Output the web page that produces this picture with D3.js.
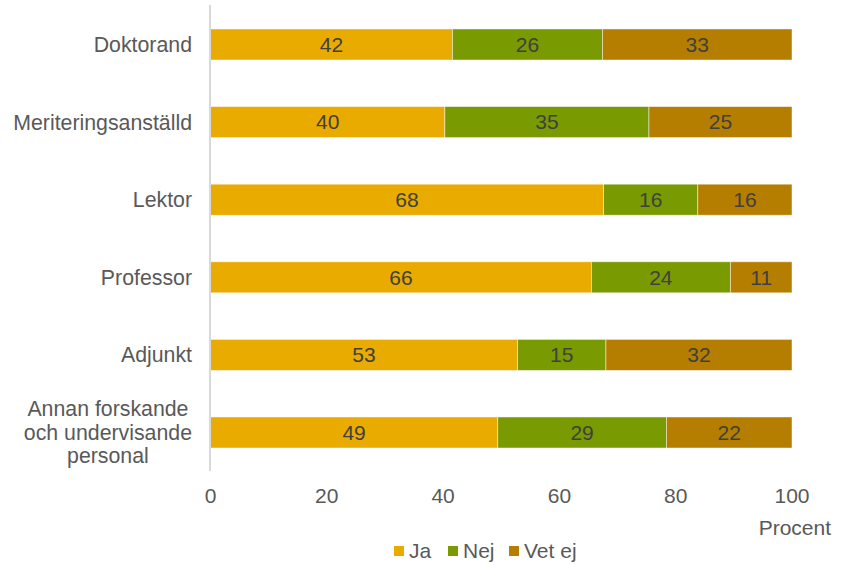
<!DOCTYPE html>
<html><head><meta charset="utf-8">
<script src="https://cdn.jsdelivr.net/npm/d3@7"></script>
<style>body{margin:0;background:#fff}svg{display:block}</style>
</head><body>
<script>
const categories = [["Doktorand"],["Meriteringsanställd"],["Lektor"],["Professor"],["Adjunkt"],["Annan forskande","och undervisande","personal"]];
const seriesNames = ["Ja","Nej","Vet ej"];
const ja    = [41.6, 40.3, 67.6, 65.5, 52.8, 49.4];
const nej   = [25.8, 35.1, 16.2, 23.9, 15.2, 29.0];
const vetej = [32.6, 24.6, 16.2, 10.6, 32.0, 21.6];
const colors = ["#EAAB00","#7A9A01","#B57E00"];
const xTicks = [0,20,40,60,80,100];

const W=842,H=564;
const svg=d3.select("body").append("svg").attr("width",W).attr("height",H);
const font="'Liberation Sans', Arial, sans-serif";

const x=d3.scaleLinear().domain([0,100]).range([210.5,792]);
const y=d3.scaleBand().domain(d3.range(categories.length)).range([5.7,471.3]).paddingInner(0.6).paddingOuter(0.3);

const rows=categories.map((c,i)=>({i,"Ja":ja[i],"Nej":nej[i],"Vet ej":vetej[i]}));
const stack=d3.stack().keys(seriesNames)(rows);

const g=svg.append("g");
stack.forEach((s,si)=>{
  g.selectAll(null).data(s).enter().append("rect")
   .attr("x",d=>x(d[0])).attr("width",d=>x(d[1])-x(d[0]))
   .attr("y",d=>y(d.data.i)).attr("height",y.bandwidth())
   .attr("fill",colors[si]).attr("stroke","#fff").attr("stroke-width",0.8).attr("stroke-opacity",0.6);
  g.selectAll(null).data(s).enter().append("text")
   .attr("x",d=>(x(d[0])+x(d[1]))/2).attr("y",d=>y(d.data.i)+y.bandwidth()/2)
   .attr("dy","0.35em").attr("text-anchor","middle")
   .attr("font-family",font).attr("font-size",21).attr("fill","#404040")
   .text(d=>Math.round(d[1]-d[0]));
});

// axis line
svg.append("line").attr("x1",210).attr("x2",210).attr("y1",5).attr("y2",471)
  .attr("stroke","#d9d9d9").attr("stroke-width",2);

// category labels
categories.forEach((lines,i)=>{
  const cy=y(i)+y.bandwidth()/2;
  const lh=23.5;
  const t=svg.append("text").attr("font-family",font).attr("font-size",21.3).attr("fill","#595959");
  if(lines.length===1){
    t.attr("x",192).attr("y",cy).attr("dy","0.35em").attr("text-anchor","end").text(lines[0]);
  } else {
    t.attr("text-anchor","middle");
    const tsp=lines.map((l,k)=>t.append("tspan").attr("y",cy+(k-(lines.length-1)/2)*lh).attr("dy","0.35em").text(l));
    let mw=0; tsp.forEach(s=>{mw=Math.max(mw,s.node().getComputedTextLength());});
    tsp.forEach(s=>s.attr("x",192-mw/2));
  }
});

// x tick labels
svg.selectAll(null).data(xTicks).enter().append("text")
  .attr("x",d=>x(d)).attr("y",496).attr("dy","0.35em").attr("text-anchor","middle")
  .attr("font-family",font).attr("font-size",21).attr("fill","#595959").text(d=>d);

svg.append("text").attr("x",831).attr("y",528).attr("dy","0.35em").attr("text-anchor","end")
  .attr("font-family",font).attr("font-size",21).attr("fill","#595959").text("Procent");

// legend
const legX=[394,448,509];
seriesNames.forEach((n,i)=>{
  svg.append("rect").attr("x",legX[i]).attr("y",546).attr("width",10).attr("height",10).attr("fill",colors[i]);
  svg.append("text").attr("x",legX[i]+15).attr("y",550.5).attr("dy","0.35em")
    .attr("font-family",font).attr("font-size",21).attr("fill","#595959").text(n);
});
</script>
</body></html>
